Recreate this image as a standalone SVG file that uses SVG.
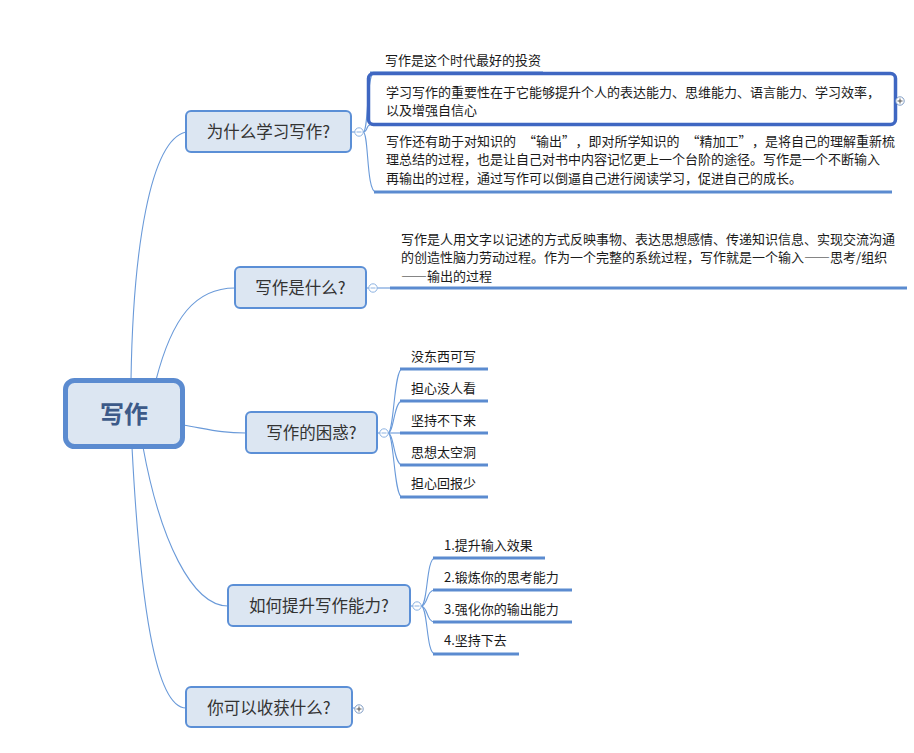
<svg xmlns="http://www.w3.org/2000/svg" width="914" height="753" viewBox="0 0 914 753">
<style>
.conn{fill:none;stroke:#6a9ad9;stroke-width:1.1}
.ul{fill:none;stroke:#5b8bd0;stroke-width:3}
.box{fill:#dce6f2;stroke:#5b8fd6;stroke-width:2}
.bt{font-family:"Noto Sans CJK SC","Noto Sans",sans-serif;font-size:16.5px;fill:#333;text-anchor:middle}
.ct{font-family:"Noto Sans CJK SC","Noto Sans",sans-serif;font-size:13px;fill:#1a1a1a}
.fw{font-feature-settings:"fwid" 1}
.tog{fill:#fff;stroke:#8db3e2;stroke-width:1}
.togl{stroke:#8db3e2;stroke-width:1}
.plus{fill:#fff;stroke:#7f9cc4;stroke-width:1}
.plusl{stroke:#555;stroke-width:1}
</style>
<rect width="914" height="753" fill="#fff"/>
<g id="connectors">
<path class="conn" d="M131,380 C133,250 150,140 186,132"/>
<path class="conn" d="M156,380 C172,318 195,288 235,288"/>
<path class="conn" d="M183,425 C212,430 222,433 246,433"/>
<path class="conn" d="M143,447 C160,540 192,606 228,606"/>
<path class="conn" d="M132,447 C140,600 155,708 186,708"/>
<line class="conn" x1="351" y1="132" x2="355" y2="132"/>
<path class="conn" d="M363,132 C369,132 366,73 374,73"/>
<path class="conn" d="M363,132 C368,132 366,125 370,125"/>
<path class="conn" d="M363,132 C369,132 366,192 376,192"/>
<line class="conn" x1="366" y1="288" x2="369" y2="288"/>
<line class="conn" x1="377" y1="288" x2="390" y2="288"/>
<line class="conn" x1="377" y1="433" x2="380" y2="433"/>
<path class="conn" d="M388,433 C394,433 394,369 402,369"/>
<path class="conn" d="M388,433 C394,433 394,401 402,401"/>
<line class="conn" x1="388" y1="433" x2="402" y2="433"/>
<path class="conn" d="M388,433 C394,433 394,465 402,465"/>
<path class="conn" d="M388,433 C394,433 394,497 402,497"/>
<line class="conn" x1="410" y1="606" x2="413" y2="606"/>
<path class="conn" d="M421,606 C428,606 426,558 435,558"/>
<path class="conn" d="M421,606 C428,606 426,590 435,590"/>
<path class="conn" d="M421,606 C428,606 426,622 435,622"/>
<path class="conn" d="M421,606 C428,606 426,654 435,654"/>
<line class="conn" x1="352" y1="708" x2="355" y2="708"/>
</g>
<g id="root">
<rect x="65.5" y="380.5" width="117" height="66" rx="9" fill="#dce6f2" stroke="#5b8bd0" stroke-width="5"/>
<text x="124" y="423" font-family="'Noto Sans CJK SC','Noto Sans',sans-serif" font-size="24" font-weight="bold" fill="#3d5a89" text-anchor="middle">写作</text>
</g>
<g id="b1">
<rect class="box" x="186" y="111" width="165" height="41" rx="5"/>
<text class="bt" x="268.5" y="137.5">为什么学习写作?</text>
<circle class="tog" cx="359" cy="132" r="4.2"/><line class="togl" x1="356.5" y1="132" x2="361.5" y2="132"/>
</g>
<g id="b1c1">
<text class="ct" x="385" y="65">写作是这个时代最好的投资</text>
<line class="ul" x1="370" y1="73" x2="543" y2="73"/>
</g>
<g id="b1c2">
<rect x="368.5" y="73.5" width="527" height="51" rx="5" fill="none" stroke="#3f67c2" stroke-width="3.5"/>
<text class="ct" x="386" y="97">学习写作的重要性在于它能够提升个人的表达能力、思维能力、语言能力、学习效率，</text>
<text class="ct" x="386" y="115">以及增强自信心</text>
<circle class="plus" cx="900" cy="101" r="4.2"/><line class="plusl" x1="897.5" y1="101" x2="902.5" y2="101"/><line class="plusl" x1="900" y1="98.5" x2="900" y2="103.5"/>
</g>
<g id="b1c3">
<text class="ct" x="386" y="146">写作还有助于对知识的<tspan dx="7">“</tspan>输出”<tspan dx="7">，即对所学知识的</tspan><tspan dx="7">“</tspan>精加工”<tspan dx="7">，是将自己的理解重新梳</tspan></text>
<text class="ct" x="386" y="164">理总结的过程，也是让自己对书中内容记忆更上一个台阶的途径。写作是一个不断输入</text>
<text class="ct" x="386" y="183">再输出的过程，通过写作可以倒逼自己进行阅读学习，促进自己的成长。</text>
<line class="ul" x1="374" y1="192" x2="892" y2="192"/>
</g>
<g id="b2">
<rect class="box" x="235" y="267" width="131" height="41" rx="5"/>
<text class="bt" x="300.5" y="294">写作是什么?</text>
<circle class="tog" cx="373" cy="288" r="4.2"/><line class="togl" x1="370.5" y1="288" x2="375.5" y2="288"/>
</g>
<g id="b2c1">
<text class="ct" x="401" y="244">写作是人用文字以记述的方式反映事物、表达思想感情、传递知识信息、实现交流沟通</text>
<text class="ct" x="401" y="262">的创造性脑力劳动过程。作为一个完整的系统过程，写作就是一个输入<tspan class="fw">——</tspan>思考/组织</text>
<text class="ct" x="401" y="281"><tspan class="fw">——</tspan>输出的过程</text>
<line class="ul" x1="390" y1="288" x2="907" y2="288"/>
</g>
<g id="b3">
<rect class="box" x="246" y="412" width="131" height="41" rx="5"/>
<text class="bt" x="311.5" y="439">写作的困惑?</text>
<circle class="tog" cx="384" cy="433" r="4.2"/><line class="togl" x1="381.5" y1="433" x2="386.5" y2="433"/>
</g>
<g id="b3c1"><text class="ct" x="411" y="361">没东西可写</text><line class="ul" x1="400" y1="369" x2="488" y2="369"/></g>
<g id="b3c2"><text class="ct" x="411" y="393">担心没人看</text><line class="ul" x1="400" y1="401" x2="488" y2="401"/></g>
<g id="b3c3"><text class="ct" x="411" y="425">坚持不下来</text><line class="ul" x1="400" y1="433" x2="488" y2="433"/></g>
<g id="b3c4"><text class="ct" x="411" y="457">思想太空洞</text><line class="ul" x1="400" y1="465" x2="488" y2="465"/></g>
<g id="b3c5"><text class="ct" x="411" y="488">担心回报少</text><line class="ul" x1="400" y1="497" x2="488" y2="497"/></g>
<g id="b4">
<rect class="box" x="228" y="585" width="182" height="41" rx="5"/>
<text class="bt" x="319" y="612">如何提升写作能力?</text>
<circle class="tog" cx="417" cy="606" r="4.2"/><line class="togl" x1="414.5" y1="606" x2="419.5" y2="606"/>
</g>
<g id="b4c1"><text class="ct" x="444" y="550">1.提升输入效果</text><line class="ul" x1="433" y1="558" x2="545" y2="558"/></g>
<g id="b4c2"><text class="ct" x="444" y="582">2.锻炼你的思考能力</text><line class="ul" x1="433" y1="590" x2="572" y2="590"/></g>
<g id="b4c3"><text class="ct" x="444" y="614">3.强化你的输出能力</text><line class="ul" x1="433" y1="622" x2="572" y2="622"/></g>
<g id="b4c4"><text class="ct" x="444" y="645">4.坚持下去</text><line class="ul" x1="433" y1="654" x2="519" y2="654"/></g>
<g id="b5">
<rect class="box" x="186" y="687" width="166" height="40" rx="5"/>
<text class="bt" x="269" y="713.5">你可以收获什么?</text>
<circle class="plus" cx="359" cy="709" r="4.2"/><line class="plusl" x1="356.5" y1="709" x2="361.5" y2="709"/><line class="plusl" x1="359" y1="706.5" x2="359" y2="711.5"/>
</g>
</svg>
